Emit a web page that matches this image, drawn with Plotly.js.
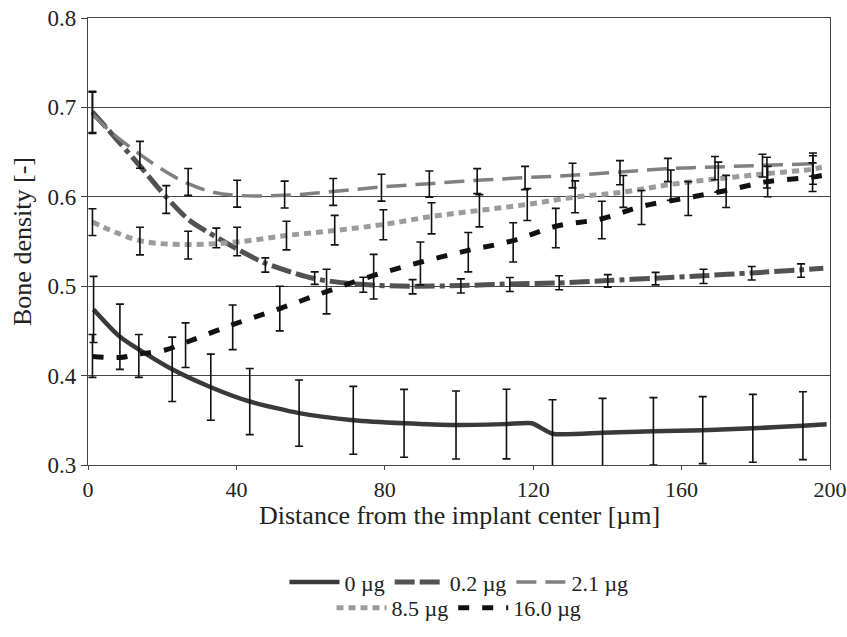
<!DOCTYPE html>
<html>
<head>
<meta charset="utf-8">
<script src="https://cdn.plot.ly/plotly-3.0.1.min.js"></script>
<style>html,body{margin:0;padding:0;background:#fff;}#chart{width:847px;height:637px;}</style>
</head>
<body>
<div id="chart"></div>
<script>
// ---- data ----
const seriesNames = ["0 µg", "0.2 µg", "2.1 µg", "8.5 µg", "16.0 µg"];

// 0 µg
const x0Line = [1.5, 8.6, 22.7, 33.1, 43.6, 56.9, 71.5, 85.2, 99.2, 112.8, 119.6, 125.2, 138.7, 152.4, 165.7, 179.2, 192.7, 199.1];
const y0Line = [0.474, 0.4435, 0.407, 0.387, 0.371, 0.358, 0.350, 0.3466, 0.3447, 0.3458, 0.3467, 0.335, 0.336, 0.3377, 0.339, 0.341, 0.344, 0.3456];
const x0Bar = [1.5, 8.6, 22.7, 33.1, 43.6, 56.9, 71.5, 85.2, 99.2, 112.8, 125.2, 138.7, 152.4, 165.7, 179.2, 192.7];
const y0Bar = [0.474, 0.4435, 0.407, 0.387, 0.371, 0.358, 0.350, 0.3466, 0.3447, 0.3458, 0.335, 0.336, 0.3377, 0.339, 0.341, 0.344];
const e0Bar = [0.037, 0.0365, 0.036, 0.037, 0.037, 0.037, 0.038, 0.038, 0.038, 0.039, 0.038, 0.0385, 0.0377, 0.0375, 0.038, 0.038];

// 0.2 µg
const x02Line = [1.2, 6.7, 13.9, 21.1, 27.4, 34.6, 40.9, 47.8, 61.1, 74.2, 87.5, 100.5, 113.7, 127.0, 140.1, 153.0, 165.9, 178.9, 192.2, 198.2];
const y02Line = [0.695, 0.669, 0.635, 0.5997, 0.5735, 0.555, 0.540, 0.5257, 0.5085, 0.5018, 0.500, 0.5007, 0.5026, 0.5036, 0.5063, 0.509, 0.5117, 0.5149, 0.5183, 0.520];
const x02Bar = [1.2, 21.1, 34.6, 47.8, 61.1, 74.2, 87.5, 100.5, 113.7, 127.0, 140.1, 153.0, 165.9, 178.9, 192.2];
const y02Bar = [0.694, 0.597, 0.554, 0.5237, 0.509, 0.5016, 0.4994, 0.5003, 0.5019, 0.5039, 0.506, 0.5085, 0.511, 0.5145, 0.5175];
const e02Bar = [0.023, 0.0155, 0.011, 0.008, 0.007, 0.0084, 0.008, 0.0079, 0.0078, 0.0078, 0.007, 0.007, 0.008, 0.0075, 0.0075];

// 2.1 µg
const x21Line = [1.2, 6.7, 14.0, 21.1, 27.0, 33.6, 40.2, 53.0, 66.1, 79.1, 92.0, 104.9, 117.8, 130.6, 143.4, 156.3, 169.0, 181.8, 195.4, 197.5];
const y21Line = [0.692, 0.6707, 0.6475, 0.6277, 0.6147, 0.6053, 0.6016, 0.6016, 0.606, 0.611, 0.6147, 0.6184, 0.6214, 0.624, 0.6277, 0.6315, 0.6333, 0.6352, 0.637, 0.6375];
const x21Bar = [1.2, 14.0, 27.0, 40.2, 53.0, 66.1, 79.1, 92.0, 104.9, 117.8, 130.6, 143.4, 156.3, 169.0, 181.8, 195.4];
const y21Bar = [0.695, 0.647, 0.6166, 0.6035, 0.6025, 0.6054, 0.6102, 0.6142, 0.6175, 0.621, 0.6238, 0.627, 0.630, 0.632, 0.6349, 0.636];
const e21Bar = [0.023, 0.015, 0.015, 0.015, 0.015, 0.015, 0.015, 0.0146, 0.014, 0.013, 0.0138, 0.0135, 0.013, 0.013, 0.0127, 0.013];

// 8.5 µg
const x85Line = [1.2, 14.0, 27.0, 40.2, 53.5, 66.5, 79.6, 92.6, 105.5, 118.4, 131.3, 144.3, 157.1, 169.9, 183.0, 195.4, 197.8];
const y85Line = [0.5717, 0.551, 0.5466, 0.5495, 0.5567, 0.5623, 0.569, 0.578, 0.5848, 0.5915, 0.5997, 0.6053, 0.6139, 0.6203, 0.6259, 0.631, 0.633];
const x85Bar = [1.2, 14.0, 27.0, 40.2, 53.5, 66.5, 79.6, 92.6, 105.5, 118.4, 131.3, 144.3, 157.1, 169.9, 183.0, 195.4];
const y85Bar = [0.5717, 0.5505, 0.546, 0.550, 0.5566, 0.5627, 0.5687, 0.5759, 0.5844, 0.5913, 0.600, 0.606, 0.613, 0.622, 0.627, 0.630];
const e85Bar = [0.015, 0.0155, 0.0155, 0.016, 0.016, 0.0165, 0.0168, 0.0174, 0.018, 0.0178, 0.0178, 0.0178, 0.017, 0.0168, 0.0172, 0.016];

// 16.0 µg
const x16Line = [1.2, 8.6, 13.7, 20.8, 26.3, 39.0, 51.7, 64.3, 77.0, 89.6, 102.5, 114.6, 126.1, 138.5, 149.2, 161.8, 172.0, 183.2, 195.3, 198.0];
const y16Line = [0.4214, 0.4203, 0.424, 0.4286, 0.437, 0.457, 0.475, 0.494, 0.512, 0.5268, 0.540, 0.551, 0.567, 0.5755, 0.5892, 0.599, 0.607, 0.617, 0.622, 0.624];
const x16Bar = [1.2, 13.7, 26.3, 39.0, 51.7, 64.3, 77.0, 89.6, 102.5, 114.6, 126.1, 138.5, 149.2, 161.8, 172.0, 183.2, 195.3];
const y16Bar = [0.422, 0.422, 0.434, 0.454, 0.475, 0.494, 0.5106, 0.5255, 0.538, 0.549, 0.565, 0.574, 0.588, 0.598, 0.606, 0.617, 0.622];
const e16Bar = [0.024, 0.024, 0.025, 0.025, 0.025, 0.025, 0.025, 0.024, 0.022, 0.022, 0.022, 0.021, 0.019, 0.019, 0.018, 0.017, 0.016];

const xTicks = [0, 40, 80, 120, 160, 200];
const yTicks = [0.3, 0.4, 0.5, 0.6, 0.7, 0.8];
const xTitle = "Distance from the implant center [µm]";
const yTitle = "Bone density [-]";

// ---- styles ----
const FONT = "Liberation Serif, Times New Roman, serif";
const styles = [
  {color: "#3a3a3a", width: 4.5, dash: "solid", smooth: 0.6, legend: "legend"},
  {color: "#525252", width: 5, dash: "20px,5px,20px,5px,5px,5px", smooth: 0.8, legend: "legend"},
  {color: "#808080", width: 3.5, dash: "20px,9px", smooth: 1, legend: "legend"},
  {color: "#9c9c9c", width: 5, dash: "7px,5px", smooth: 1, legend: "legend2"},
  {color: "#111111", width: 5, dash: "11px,13px", smooth: 1, legend: "legend2"}
];
const lines = [[x0Line, y0Line], [x02Line, y02Line], [x21Line, y21Line], [x85Line, y85Line], [x16Line, y16Line]];
const bars = [[x0Bar, y0Bar, e0Bar], [x02Bar, y02Bar, e02Bar], [x21Bar, y21Bar, e21Bar], [x85Bar, y85Bar, e85Bar], [x16Bar, y16Bar, e16Bar]];

const traces = [];
lines.forEach((l, i) => {
  const s = styles[i];
  traces.push({
    x: l[0], y: l[1], name: seriesNames[i], type: "scatter", mode: "lines",
    line: {color: s.color, width: s.width, dash: s.dash, shape: "spline", smoothing: s.smooth},
    legend: s.legend, hoverinfo: "skip"
  });
});
bars.forEach((b, i) => {
  traces.push({
    x: b[0], y: b[1], type: "scatter", mode: "markers", showlegend: false,
    marker: {size: 1, color: "rgba(0,0,0,0)"},
    error_y: {type: "data", array: b[2], visible: true, color: "#111", thickness: 1.6, width: 4},
    hoverinfo: "skip"
  });
});

const legendCommon = {
  orientation: "h", xanchor: "center", yanchor: "middle", x: 0.5,
  font: {family: FONT, size: 22, color: "#222"}, itemwidth: 50,
  bgcolor: "rgba(0,0,0,0)", traceorder: "normal"
};

const layout = {
  width: 847, height: 637,
  margin: {l: 88, r: 17, t: 18, b: 172, autoexpand: false},
  paper_bgcolor: "#fff", plot_bgcolor: "#fff",
  showlegend: true,
  font: {family: FONT, size: 22, color: "#222"},
  xaxis: {
    range: [0, 200], tickvals: xTicks, ticktext: xTicks.map(String),
    showline: true, mirror: true, linecolor: "#444", linewidth: 1.2,
    ticks: "outside", ticklen: 4, tickcolor: "#444", showgrid: false, zeroline: false,
    ticklabeloverflow: "allow", automargin: false,
    tickfont: {family: FONT, size: 22, color: "#222"}
  },
  yaxis: {
    range: [0.3, 0.8], tickvals: yTicks, ticktext: yTicks.map(v => v.toFixed(1)),
    showline: true, mirror: true, linecolor: "#444", linewidth: 1.2,
    ticks: "outside", ticklen: 6, tickcolor: "#444", automargin: false,
    showgrid: true, gridcolor: "#444", gridwidth: 1, zeroline: false,
    tickfont: {family: FONT, size: 23, color: "#222"},
    title: {text: yTitle, font: {family: FONT, size: 26, color: "#222"}, standoff: 8}
  },
  annotations: [{
    text: xTitle, xref: "paper", yref: "paper", x: 0.5, y: -0.112,
    xanchor: "center", yanchor: "middle", showarrow: false,
    font: {family: FONT, size: 26, color: "#222"}
  }],
  legend: Object.assign({}, legendCommon, {y: -0.262}),
  legend2: Object.assign({}, legendCommon, {y: -0.320})
};

Plotly.newPlot("chart", traces, layout, {displayModeBar: false, staticPlot: true});
</script>
</body>
</html>
